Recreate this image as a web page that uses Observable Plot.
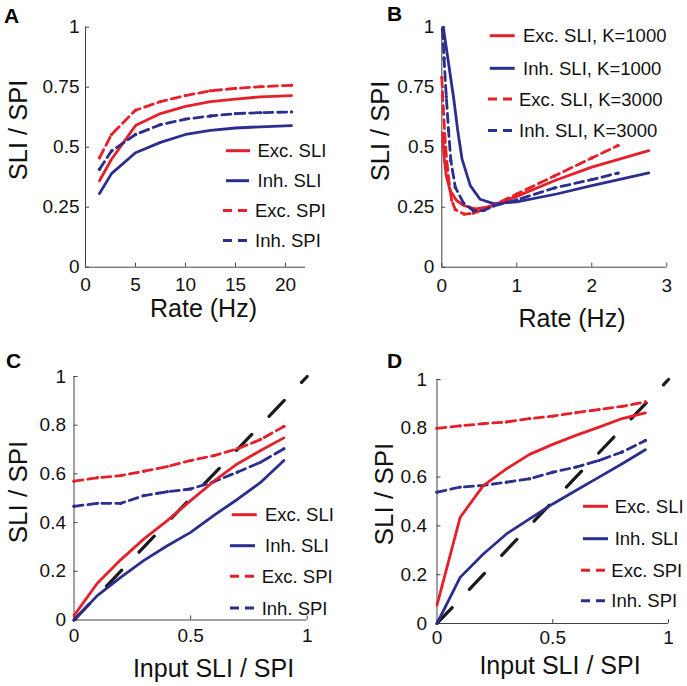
<!DOCTYPE html>
<html><head><meta charset="utf-8">
<script src="https://cdn.jsdelivr.net/npm/d3@7"></script>
<script src="https://cdn.jsdelivr.net/npm/@observablehq/plot@0.6"></script>
<style>
body{margin:0;background:#fff;}
#fig{position:relative;width:687px;height:686px;background:#fff;overflow:hidden}
.panel{position:absolute}
#overlay{position:absolute;left:0;top:0}
</style></head><body><div id="fig"></div>
<script>
const FONT = '"Liberation Sans", Arial, Helvetica, sans-serif';
const RED = "#e6202a", BLUE = "#2b2e8e", BLACK = "#1a1a1a", AXIS = "#444", TEXT = "#111";

// ---------- Panel A ----------
const rateA     = [1.4, 2.6, 5, 7.5, 10, 12.5, 15, 17.5, 20.6];
const excSLI_A  = [0.36, 0.45, 0.59, 0.64, 0.67, 0.69, 0.70, 0.71, 0.715];
const inhSLI_A  = [0.307, 0.39, 0.477, 0.52, 0.553, 0.57, 0.58, 0.585, 0.59];
const excSPI_A  = [0.456, 0.553, 0.654, 0.69, 0.715, 0.735, 0.745, 0.752, 0.758];
const inhSPI_A  = [0.408, 0.484, 0.553, 0.594, 0.617, 0.63, 0.64, 0.644, 0.647];
const xTicksA = [0, 5, 10, 15, 20];
const yTicksAB = [0, 0.25, 0.5, 0.75, 1];

// ---------- Panel B ----------
const rateB_exc1000 = [0.01, 0.03, 0.06, 0.11, 0.2, 0.3, 0.45, 0.6, 0.75, 1.0, 1.5, 2.0, 2.76];
const excSLI_1000   = [0.56, 0.46, 0.38, 0.32, 0.277, 0.256, 0.243, 0.25, 0.265, 0.295, 0.36, 0.417, 0.486];
const rateB_inh1000 = [0.02, 0.09, 0.16, 0.21, 0.27, 0.38, 0.51, 0.69, 1.0, 1.53, 2.0, 2.76];
const inhSLI_1000   = [1.0, 0.85, 0.70, 0.575, 0.45, 0.34, 0.283, 0.265, 0.272, 0.305, 0.34, 0.393];
const rateB_exc3000 = [0.0, 0.02, 0.05, 0.09, 0.13, 0.18, 0.3, 0.42, 0.6, 1.0, 1.5, 2.0, 2.35];
const excSLI_3000   = [0.79, 0.66, 0.5, 0.37, 0.28, 0.24, 0.221, 0.225, 0.245, 0.305, 0.38, 0.455, 0.507];
const rateB_inh3000 = [0.01, 0.03, 0.06, 0.09, 0.12, 0.18, 0.29, 0.42, 0.56, 0.69, 1.0, 1.5, 2.0, 2.35];
const inhSLI_3000   = [0.99, 0.87, 0.71, 0.57, 0.445, 0.333, 0.267, 0.236, 0.236, 0.255, 0.28, 0.33, 0.365, 0.392];
const xTicksB = [0, 1, 2, 3];

// ---------- Panel C ----------
const inputCD   = [0, 0.1, 0.2, 0.3, 0.4, 0.5, 0.6, 0.7, 0.8, 0.9];
const excSLI_C  = [0.018, 0.151, 0.247, 0.333, 0.408, 0.49, 0.57, 0.641, 0.696, 0.748];
const inhSLI_C  = [0.0, 0.1, 0.175, 0.245, 0.305, 0.36, 0.43, 0.495, 0.565, 0.655];
const excSPI_C  = [0.57, 0.584, 0.593, 0.611, 0.63, 0.655, 0.675, 0.703, 0.741, 0.795];
const inhSPI_C  = [0.467, 0.479, 0.479, 0.511, 0.527, 0.538, 0.568, 0.607, 0.648, 0.703];

// ---------- Panel D ----------
const excSLI_D  = [0.075, 0.435, 0.565, 0.634, 0.693, 0.734, 0.771, 0.805, 0.84, 0.863];
const inhSLI_D  = [0.0, 0.189, 0.285, 0.367, 0.429, 0.49, 0.545, 0.6, 0.655, 0.712];
const excSPI_D  = [0.8, 0.81, 0.819, 0.826, 0.84, 0.85, 0.864, 0.877, 0.89, 0.908];
const inhSPI_D  = [0.538, 0.559, 0.566, 0.579, 0.593, 0.62, 0.641, 0.668, 0.703, 0.75];

const identityX = [0, 1];
const identityY = [0, 1];
const xTicksCD = [0, 0.5, 1];
const yTicksCD = [0, 0.2, 0.4, 0.6, 0.8, 1];

function series(xs, ys, color, dashed) {
  return {color, dashed, data: xs.map((x, i) => ({x, y: ys[i]}))};
}

const fig = document.getElementById("fig");
const TICK_FS = 19;

function makePanel(cfg) {
  const {left, top, width, height, px0, px1, pyTop, pyBottom, xDomain, yDomain, xTicks, yTicks, list, diag, xPad, yPad} = cfg;
  const plotW = px1 - px0, plotH = pyBottom - pyTop;
  const tickLen = 4;
  const dxTick = (xDomain[1] - xDomain[0]) * tickLen / plotW;
  const dyTick = (yDomain[1] - yDomain[0]) * tickLen / plotH;
  const marks = [
    Plot.ruleX([xDomain[0]], {stroke: AXIS, strokeWidth: 1}),
    Plot.ruleY([yDomain[0]], {stroke: AXIS, strokeWidth: 1}),
    Plot.ruleY(yTicks, {y: d => d, x1: xDomain[0], x2: xDomain[0] + dxTick, stroke: AXIS}),
    Plot.ruleX(xTicks, {x: d => d, y1: yDomain[0], y2: yDomain[0] + dyTick, stroke: AXIS}),
    Plot.axisY({ticks: yTicks, tickFormat: d => String(d), tickSize: 0, tickPadding: yPad, label: null, fill: TEXT, fontSize: TICK_FS}),
    Plot.axisX({ticks: xTicks, tickFormat: d => String(d), tickSize: 0, tickPadding: xPad, label: null, fill: TEXT, fontSize: TICK_FS})
  ];
  if (diag) {
    marks.push(Plot.line(identityX.map((x, i) => ({x, y: identityY[i]})), {x: "x", y: "y", stroke: BLACK, strokeWidth: 3.2, strokeDasharray: "22,25"}));
  }
  for (const s of list) {
    marks.push(Plot.line(s.data, {x: "x", y: "y", stroke: s.color, strokeWidth: 2.8, strokeDasharray: s.dashed ? "9,5" : null}));
    if (s.dashed) marks.push(Plot.dot(s.data, {x: "x", y: "y", r: 1.7, fill: s.color}));
  }
  const p = Plot.plot({
    width, height,
    marginLeft: px0 - left, marginRight: left + width - px1,
    marginTop: pyTop - top, marginBottom: top + height - pyBottom,
    x: {domain: xDomain},
    y: {domain: yDomain},
    style: {fontFamily: FONT, fontSize: TICK_FS + "px", background: "transparent", color: TEXT, overflow: "visible"},
    marks
  });
  d3.select(p).selectAll("text").style("font-size", TICK_FS + "px").style("font-family", FONT);
  p.classList.add("panel");
  p.style.left = left + "px";
  p.style.top = top + "px";
  fig.appendChild(p);
}

makePanel({left: 0, top: 0, width: 343, height: 343, px0: 85, px1: 305, pyTop: 26.7, pyBottom: 266.7,
  xDomain: [0, 22], yDomain: [0, 1], xTicks: xTicksA, yTicks: yTicksAB, xPad: 10.5, yPad: 6,
  list: [series(rateA, excSLI_A, RED, false), series(rateA, inhSLI_A, BLUE, false),
         series(rateA, excSPI_A, RED, true), series(rateA, inhSPI_A, BLUE, true)]});

makePanel({left: 343, top: 0, width: 344, height: 343, px0: 441.3, px1: 666.3, pyTop: 26.7, pyBottom: 266.7,
  xDomain: [0, 3], yDomain: [0, 1], xTicks: xTicksB, yTicks: yTicksAB, xPad: 11.5, yPad: 7.5,
  list: [series(rateB_exc1000, excSLI_1000, RED, false), series(rateB_inh1000, inhSLI_1000, BLUE, false),
         series(rateB_exc3000, excSLI_3000, RED, true), series(rateB_inh3000, inhSLI_3000, BLUE, true)]});

makePanel({left: 0, top: 343, width: 343, height: 343, px0: 73.5, px1: 306.7, pyTop: 376, pyBottom: 619.5,
  xDomain: [0, 1], yDomain: [0, 1], xTicks: xTicksCD, yTicks: yTicksCD, xPad: 8.5, yPad: 8, diag: true,
  list: [series(inputCD, excSPI_C, RED, true), series(inputCD, inhSPI_C, BLUE, true),
         series(inputCD, excSLI_C, RED, false), series(inputCD, inhSLI_C, BLUE, false)]});

makePanel({left: 343, top: 343, width: 344, height: 343, px0: 436.5, px1: 668, pyTop: 379, pyBottom: 623,
  xDomain: [0, 1], yDomain: [0, 1], xTicks: xTicksCD, yTicks: yTicksCD, xPad: 7, yPad: 10, diag: true,
  list: [series(inputCD, excSPI_D, RED, true), series(inputCD, inhSPI_D, BLUE, true),
         series(inputCD, excSLI_D, RED, false), series(inputCD, inhSLI_D, BLUE, false)]});

// ---------- Text overlay: panel letters, axis titles, legends ----------
const svg = d3.select(fig).append("svg").attr("id", "overlay").attr("width", 687).attr("height", 686)
  .style("font-family", FONT);

const letters = [
  {t: "A", x: 4, y: 22.5}, {t: "B", x: 387, y: 20.5}, {t: "C", x: 6, y: 368}, {t: "D", x: 387, y: 368}
];
svg.selectAll("text.letter").data(letters).join("text").attr("class", "letter")
  .attr("x", d => d.x).attr("y", d => d.y).attr("font-size", 21).attr("font-weight", "bold").attr("fill", "#000").text(d => d.t);

const xTitles = [
  {t: "Rate (Hz)", x: 203.5, y: 317, s: 25},
  {t: "Rate (Hz)", x: 572, y: 327, s: 25},
  {t: "Input SLI / SPI", x: 213.5, y: 677, s: 25},
  {t: "Input SLI / SPI", x: 560, y: 674, s: 25}
];
svg.selectAll("text.xt").data(xTitles).join("text").attr("class", "xt")
  .attr("x", d => d.x).attr("y", d => d.y).attr("text-anchor", "middle").attr("font-size", d => d.s).attr("fill", TEXT).text(d => d.t);

const yTitles = [
  {t: "SLI / SPI", x: 27, y: 130, s: 25.5},
  {t: "SLI / SPI", x: 389, y: 131, s: 25.5},
  {t: "SLI / SPI", x: 27, y: 492, s: 26},
  {t: "SLI / SPI", x: 393, y: 494, s: 26}
];
svg.selectAll("text.yt").data(yTitles).join("text").attr("class", "yt")
  .attr("transform", d => `translate(${d.x},${d.y}) rotate(-90)`).attr("text-anchor", "middle")
  .attr("font-size", d => d.s).attr("fill", TEXT).text(d => d.t);

const legendLabelsA = ["Exc. SLI", "Inh. SLI", "Exc. SPI", "Inh. SPI"];
const legendLabelsB = ["Exc. SLI, K=1000", "Inh. SLI, K=1000", "Exc. SLI, K=3000", "Inh. SLI, K=3000"];
const legendColors = [RED, BLUE, RED, BLUE];
const legendDashed = [false, false, true, true];

const legends = [
  {labels: legendLabelsA, x1: [226, 226, 223, 223], x2: [250, 249, 247, 247], ys: [150.7, 180.7, 210.5, 240.5], tx: [257.5, 257.5, 255, 255]},
  {labels: legendLabelsB, x1: [489.7, 489.7, 488, 488], x2: [514.7, 514.7, 513, 513], ys: [35.7, 68.3, 99, 130.5], tx: [523, 523, 519, 519]},
  {labels: legendLabelsA, x1: [231.7, 230, 230, 230], x2: [256.7, 255, 255, 255], ys: [514.7, 545.7, 576.3, 608], tx: [265, 265, 261.7, 261.7]},
  {labels: legendLabelsA, x1: [583, 583, 581, 581], x2: [608, 608, 606, 606], ys: [506.3, 538.7, 570.3, 600.7], tx: [614.7, 614.7, 611.3, 611.3]}
];
for (const L of legends) {
  const g = svg.append("g");
  L.labels.forEach((lab, i) => {
    g.append("line").attr("x1", L.x1[i]).attr("x2", L.x2[i]).attr("y1", L.ys[i]).attr("y2", L.ys[i])
      .attr("stroke", legendColors[i]).attr("stroke-width", 3)
      .attr("stroke-dasharray", legendDashed[i] ? "9,6" : null);
    g.append("text").attr("x", L.tx[i]).attr("y", L.ys[i] + 6.5).attr("font-size", 18.5).attr("fill", TEXT).text(lab);
  });
}
</script></body></html>
